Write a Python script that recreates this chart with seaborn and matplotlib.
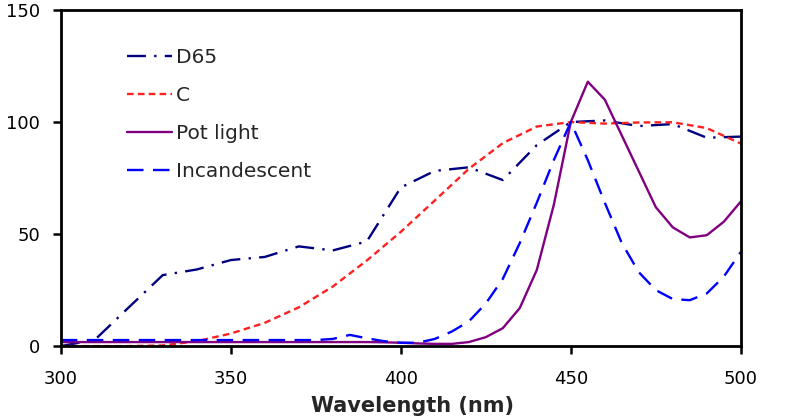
import numpy as np
import pandas as pd
import matplotlib
matplotlib.use('Agg')
import matplotlib.pyplot as plt
import seaborn as sns

# wavelengths (nm)
wl_10 = list(range(300, 501, 10))
wl_5 = list(range(300, 501, 5))

# D65 and C, 10 nm steps (normalised to 100 at 450 nm)
d65 = [0.0, 2.8, 17.3, 31.7, 34.2, 38.4, 39.8, 44.5, 42.7, 46.7, 70.8,
       78.2, 79.8, 74.1, 89.7, 100.0, 100.7, 98.2, 99.1, 93.0, 93.5]
illum_c = [0.0, 0.0, 0.0, 0.3, 2.2, 5.6, 10.4, 17.3, 26.6, 38.2, 51.0,
           65.0, 79.1, 90.6, 98.0, 100.0, 99.3, 99.8, 99.9, 97.3, 90.4]

# pot light and incandescent, 5 nm steps
pot_light = [1.8, 1.8, 1.8, 1.8, 1.8, 1.8, 1.8, 1.8, 1.8, 1.8,
             1.8, 1.8, 1.8, 1.8, 1.8, 1.8, 1.8, 1.8, 1.8, 1.7,
             1.5, 1.2, 1.0, 1.0, 1.8, 4.0, 8.0, 17.0, 34.0, 63.0,
             100.0, 118.0, 110.0, 94.0, 78.0, 62.0, 53.0, 48.5, 49.5, 55.5,
             64.5]
incandescent = [2.7, 2.7, 2.7, 2.7, 2.7, 2.7, 2.7, 2.7, 2.7, 2.7,
                2.7, 2.7, 2.7, 2.7, 2.7, 2.7, 3.2, 5.0, 3.5, 2.2,
                1.5, 1.5, 3.2, 6.5, 11.0, 19.0, 30.0, 46.0, 64.0, 83.0,
                100.0, 83.0, 64.0, 46.0, 33.0, 25.0, 21.0, 20.5, 23.5, 31.0,
                42.0]

sns.set_style('white')
plt.rcParams['font.family'] = ['DejaVu Sans']

fig = plt.figure(figsize=(8, 4.17), dpi=100)
ax = fig.add_axes([0.076, 0.170, 0.850, 0.806])

lw = 1.7
sns.lineplot(x=wl_10, y=d65, ax=ax, color='#000080', lw=lw,
             linestyle=(0, (8, 3.5, 1, 3.5)), label='D65')
sns.lineplot(x=wl_10, y=illum_c, ax=ax, color='#ff2020', lw=lw,
             linestyle=(0, (2.8, 1.8)), label='C')
sns.lineplot(x=wl_5, y=pot_light, ax=ax, color='#800080', lw=lw,
             linestyle='-', label='Pot light')
sns.lineplot(x=wl_5, y=incandescent, ax=ax, color='#0000ff', lw=lw,
             linestyle=(0, (7, 4)), label='Incandescent')

ax.set_xlim(300, 500)
ax.set_ylim(0, 150)
ax.set_xticks([300, 350, 400, 450, 500])
ax.set_yticks([0, 50, 100, 150])
ax.tick_params(axis='both', direction='out', length=6, width=1.8,
               labelsize=13, colors='black', bottom=True, left=True)
ax.tick_params(axis='x', pad=11)
ax.tick_params(axis='y', pad=9)
for s in ax.spines.values():
    s.set_color('black')
    s.set_linewidth(2)

ax.set_xlabel('Wavelength (nm)', fontsize=15, fontweight='bold')
ax.xaxis.set_label_coords(0.517, -0.148)
ax.set_ylabel('')

ax.legend(loc='upper left', bbox_to_anchor=(0.097, 0.888), frameon=False,
          fontsize=14.5, handlelength=2.25, handletextpad=0.2,
          labelspacing=0.95, borderaxespad=0, borderpad=0)

fig.savefig('out.png', dpi=100)
